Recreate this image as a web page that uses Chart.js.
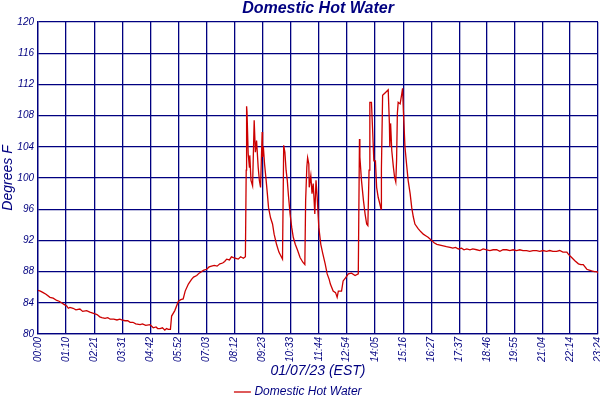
<!DOCTYPE html>
<html>
<head>
<meta charset="utf-8">
<script src="https://cdn.jsdelivr.net/npm/chart.js@4"></script>
<style>
  html, body { margin: 0; padding: 0; background: #fff; }
  #wrap { width: 600px; height: 400px; position: relative; }
</style>
</head>
<body>
<div id="wrap"><canvas id="chart"></canvas></div>
<script>
const chartTitle = "Domestic Hot Water";
const seriesLabel = "Domestic Hot Water";
const xTitle = "01/07/23 (EST)";
const yTitle = "Degrees F";

const tickLabels = [
  "00:00", "01:10", "02:21", "03:31", "04:42", "05:52", "07:03", "08:12",
  "09:23", "10:33", "11:44", "12:54", "14:05", "15:16", "16:27", "17:37",
  "18:46", "19:55", "21:04", "22:14", "23:24"
];

// minutes since midnight
const sampleMinutes = [
  0, 6, 13, 20, 30, 38, 47, 53, 59, 65, 72, 76, 80, 88, 95, 105, 112, 122, 130, 141,
  148, 155, 160, 168, 175, 181, 190, 198, 205, 210, 218, 225, 231, 238, 245, 256, 262, 270, 281, 285,
  289, 296, 300, 306, 312, 318, 322, 327, 332, 335, 343, 352, 358, 364, 369, 377, 385, 390, 398, 404,
  410, 416, 423, 429, 435, 442, 449, 456, 463, 468, 473, 480, 485, 490, 496, 502, 508, 515, 520,
  522, 523, 524, 527, 530, 531, 534, 538, 542, 545, 548, 552, 555, 558, 562, 563, 565, 568, 572, 575,
  578, 583, 588, 592, 598, 604, 609, 613, 616, 619, 622, 625, 628, 632, 636, 640, 645, 651, 657, 664,
  669, 671, 674, 676, 679, 680, 684, 687, 690, 694, 697, 700, 704, 709, 714, 720, 725, 730, 733, 740,
  746, 750, 753, 761, 765, 771, 778, 786, 795, 803, 806, 807, 811, 816, 820, 824, 827, 830, 832, 836,
  839, 842, 846, 849, 853, 857, 860, 861, 864, 868, 872, 878, 881, 882, 884, 887, 891, 894, 897, 899,
  901, 903, 908, 912, 914, 916, 920, 924, 928, 933, 937, 941, 945, 953, 960, 966, 972, 978, 987, 993,
  1000, 1008, 1016, 1024, 1033, 1040, 1047, 1054, 1062, 1068, 1075, 1083, 1090, 1100, 1108, 1116, 1125, 1133, 1141, 1150,
  1158, 1166, 1175, 1183, 1191, 1200, 1208, 1216, 1225, 1233, 1241, 1250, 1258, 1266, 1275, 1283, 1291, 1300, 1308, 1316,
  1326, 1330, 1338, 1346, 1355, 1361, 1367, 1376, 1382, 1388, 1395, 1401, 1404
];

const sampleTemps = [
  85.6, 85.5, 85.3, 85.1, 84.7, 84.6, 84.3, 84.2, 84.0, 83.8, 83.6, 83.3, 83.4, 83.3, 83.1, 83.2, 82.9, 83.0, 82.8, 82.6,
  82.5, 82.2, 82.1, 82.0, 82.1, 81.9, 81.9, 81.8, 81.9, 81.8, 81.7, 81.7, 81.5, 81.5, 81.3, 81.2, 81.3, 81.1, 81.2, 81.0,
  80.8, 80.9, 80.7, 80.7, 80.8, 80.5, 80.7, 80.6, 80.6, 82.3, 83.0, 84.2, 84.4, 84.5, 85.5, 86.4, 87.0, 87.3, 87.5, 87.8,
  88.0, 88.2, 88.3, 88.6, 88.7, 88.8, 88.7, 89.0, 89.1, 89.3, 89.6, 89.5, 89.9, 89.8, 89.7, 89.6, 89.9, 89.7, 89.9,
  101.0, 109.2, 108.5, 103.1, 101.4, 102.9, 99.7, 99.0, 107.4, 103.3, 104.8, 101.4, 99.7, 98.8, 105.9, 102.7, 104.0, 101.8, 99.7, 98.0,
  96.2, 94.9, 94.1, 92.8, 91.5, 90.5, 90.0, 89.6, 104.2, 103.3, 101.0, 99.7, 97.7, 95.4, 93.7, 92.4, 91.5, 90.7, 89.8, 89.2,
  88.9, 97.1, 101.4, 102.6, 101.8, 98.8, 100.3, 98.0, 99.3, 95.4, 99.7, 97.5, 93.7, 91.5, 90.3, 89.0, 87.7, 87.0, 86.4, 85.5,
  85.3, 84.7, 85.5, 85.5, 86.8, 87.2, 87.7, 87.8, 87.5, 87.7, 105.0, 102.7, 99.7, 97.1, 95.4, 94.1, 93.9, 101.0, 109.7, 109.7,
  106.1, 102.2, 102.2, 98.8, 97.5, 96.7, 96.0, 101.2, 110.6, 110.8, 111.0, 111.3, 107.0, 104.0, 107.0, 103.5, 101.4, 100.1, 99.5, 102.2,
  108.3, 109.7, 109.5, 110.8, 111.5, 108.7, 104.0, 101.8, 99.7, 98.0, 96.2, 95.0, 94.1, 93.5, 93.1, 92.8, 92.6, 92.4, 92.0, 91.7,
  91.5, 91.4, 91.3, 91.2, 91.1, 91.0, 91.1, 90.9, 91.0, 90.8, 90.9, 90.8, 90.9, 90.8, 90.7, 90.9, 90.8, 90.7, 90.8, 90.8,
  90.6, 90.8, 90.8, 90.7, 90.8, 90.7, 90.8, 90.7, 90.7, 90.6, 90.7, 90.7, 90.6, 90.7, 90.6, 90.7, 90.6, 90.6, 90.7, 90.5,
  90.5, 90.2, 89.8, 89.4, 89.0, 88.9, 88.9, 88.3, 88.2, 88.1, 88.0, 88.0, 87.8
];

const yMin = 80;
const yMax = 120;
const yStep = 4;

const navy = "#000080";
const red = "#cc0000";
const fontFamily = "'Liberation Sans', Arial, sans-serif";

function toMinutes(label) {
  const [h, m] = label.split(":").map(Number);
  return h * 60 + m;
}

const tickValues = tickLabels.map(toMinutes);

const points = sampleMinutes.map((minute, i) => ({ x: minute, y: sampleTemps[i] }));

const titleOverArea = {
  id: "titleOverArea",
  afterDraw(chart) {
    const { ctx, chartArea } = chart;
    ctx.save();
    ctx.fillStyle = navy;
    ctx.font = `italic bold 16px ${fontFamily}`;
    ctx.textAlign = "center";
    ctx.textBaseline = "middle";
    ctx.fillText(chartTitle, (chartArea.left + chartArea.right) / 2, 9);
    ctx.restore();
  }
};

new Chart(document.querySelector("#chart"), {
  type: "line",
  data: {
    datasets: [{
      label: seriesLabel,
      data: points,
      borderColor: red,
      backgroundColor: red,
      borderWidth: 1.3,
      pointRadius: 0,
      tension: 0
    }]
  },
  options: {
    responsive: true,
    maintainAspectRatio: false,
    animation: false,
    layout: { padding: { top: 22, right: 2, left: 0, bottom: -8 } },
    scales: {
      x: {
        type: "linear",
        min: 0,
        max: tickValues[tickValues.length - 1],
        afterBuildTicks: axis => {
          axis.ticks = tickValues.map(value => ({ value }));
        },
        afterFit: axis => {
          axis.height = 50;
          axis.paddingLeft = 0;
          axis.paddingRight = 0;
        },
        ticks: {
          autoSkip: false,
          maxRotation: 90,
          minRotation: 90,
          padding: 3,
          color: navy,
          font: { family: fontFamily, size: 10, style: "italic" },
          callback: (value, index) => tickLabels[index]
        },
        grid: { color: navy, lineWidth: 1.3, drawTicks: false },
        border: { color: navy, width: 1.3 },
        title: {
          display: true,
          text: xTitle,
          color: navy,
          font: { family: fontFamily, size: 14, style: "italic" },
          padding: { top: 0, bottom: 4 }
        }
      },
      y: {
        min: yMin,
        max: yMax,
        afterFit: axis => { axis.width = 38; },
        ticks: {
          stepSize: yStep,
          padding: 4,
          color: navy,
          font: { family: fontFamily, size: 10, style: "italic" }
        },
        grid: { color: navy, lineWidth: 1.3, drawTicks: false },
        border: { color: navy, width: 1.3 },
        title: {
          display: true,
          text: yTitle,
          color: navy,
          font: { family: fontFamily, size: 14, style: "italic" },
          padding: { top: 0, bottom: 2 }
        }
      }
    },
    plugins: {
      legend: {
        position: "bottom",
        labels: {
          color: navy,
          font: { family: fontFamily, size: 12, style: "italic" },
          usePointStyle: true,
          pointStyle: "line",
          boxWidth: 12,
          padding: 2
        }
      },
      title: { display: false },
      tooltip: { enabled: false }
    }
  },
  plugins: [titleOverArea]
});
</script>
</body>
</html>
